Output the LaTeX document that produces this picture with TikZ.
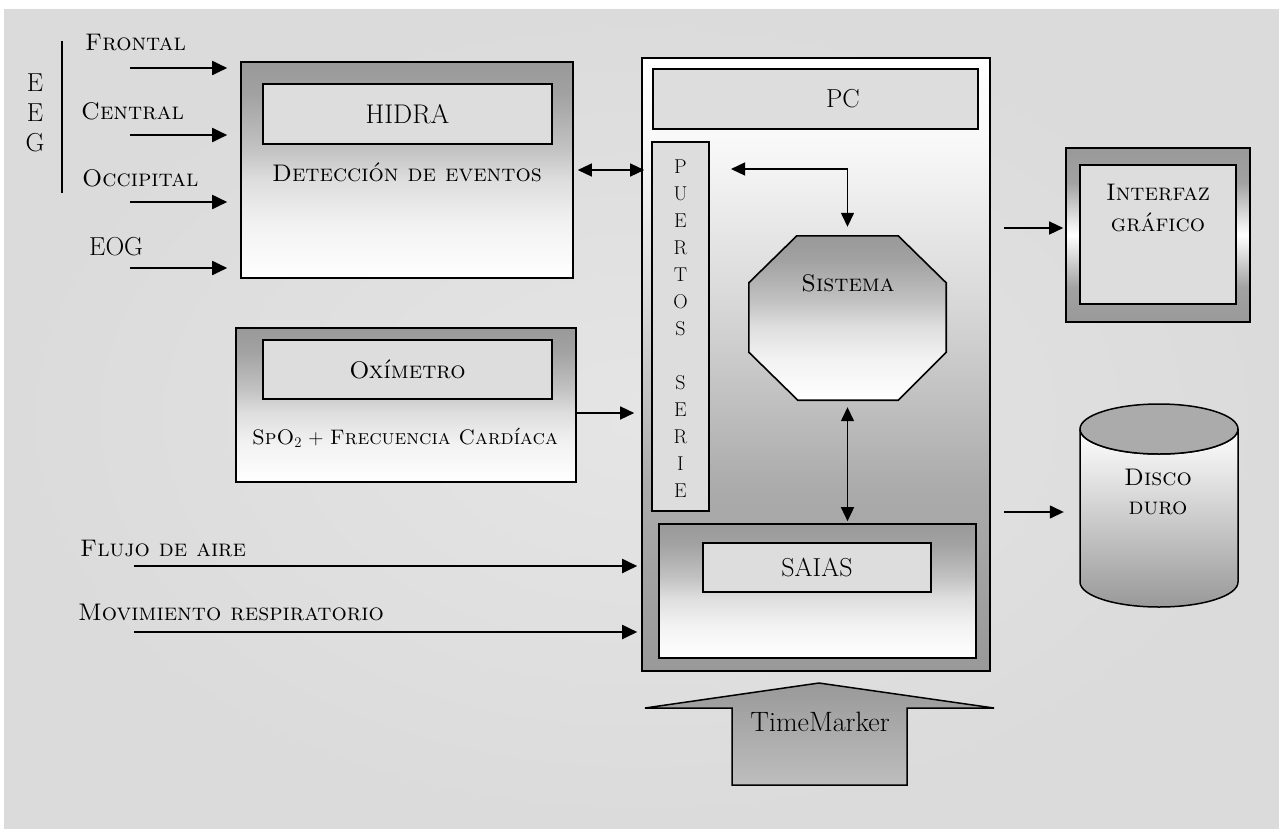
\documentclass[tikz,border=0pt]{standalone}
\usepackage{fontspec}
\usetikzlibrary{arrows.meta,calc}

\definecolor{g99}{HTML}{999999}
\definecolor{gA0}{HTML}{A2A2A2}
\definecolor{gAA}{HTML}{ABABAB}
\definecolor{gBE}{HTML}{BEBEBE}
\definecolor{gC0}{HTML}{C2C2C2}
\definecolor{gD8}{HTML}{D8D8D8}
\definecolor{gDB}{HTML}{DBDBDB}
\definecolor{gDD}{HTML}{DDDDDD}
\definecolor{gDE}{HTML}{DEDEDE}
\definecolor{gE5}{HTML}{E5E5E5}
\definecolor{gF2}{HTML}{F2F2F2}
\definecolor{gF8}{HTML}{F8F8F8}

% dark top fading to white at the bottom
\pgfdeclareverticalshading{boxfade}{100bp}{color(0bp)=(white); color(25bp)=(white);
  color(37.5bp)=(gF2); color(47.5bp)=(gDE); color(55bp)=(gC0); color(67.5bp)=(gA0);
  color(75bp)=(g99); color(100bp)=(g99)}
% white top fading to gray at the bottom
\pgfdeclareverticalshading{pcfade}{100bp}{color(0bp)=(g99); color(25bp)=(g99);
  color(40bp)=(gAA); color(55bp)=(gD8); color(68bp)=(gF8); color(75bp)=(white);
  color(100bp)=(white)}
% gray at top and bottom, white in the middle
\pgfdeclareverticalshading{framefade}{100bp}{color(0bp)=(g99); color(25bp)=(g99);
  color(35bp)=(gA0); color(50bp)=(white); color(65bp)=(gA0); color(75bp)=(g99);
  color(100bp)=(g99)}

\tikzset{
  outerbox/.style={draw=black, line width=1.6pt, shade, shading=boxfade, inner sep=0pt},
  innerbox/.style={draw=black, line width=1.5pt, fill=gDD, inner sep=0pt},
  ghost/.style={inner sep=0pt},
  big/.style={font=\fontsize{26}{30}\selectfont},
  arr/.style={-{Triangle[length=15pt,width=14pt]}, line width=1.9pt},
  thinarr/.style={-{Triangle[length=14pt,width=13pt]}, line width=1.4pt},
  darr/.style={{Triangle[length=14pt,width=13pt]}-{Triangle[length=14pt,width=13pt]}, line width=1.4pt},
}

\begin{document}
\begin{tikzpicture}[x=1pt, y=-1pt, font=\fontsize{24}{28}\selectfont, inner sep=0pt]
\useasboundingbox (0,0) rectangle (1279,830);
\fill[white] (0,0) rectangle (1279,830);
\shade[inner color=gE5, outer color=gDB] (4,9) rectangle (1279,828);

% ---------- EEG / EOG inputs ----------
\node[big] (eeg1) at (35,83) {E};
\node[big] (eeg2) at (35,113) {E};
\node[big] (eeg3) at (35,143) {G};
\draw[line width=1.5pt] (62,41) -- (62,193);
\node[anchor=west] (lfr) at (85,43) {\textsc{Frontal}};
\node[anchor=west] (lce) at (81,111) {\textsc{Central}};
\node[anchor=west] (loc) at (82,178) {\textsc{Occipital}};
\node[anchor=west, big] (leo) at (89,247) {EOG};

% ---------- HIDRA ----------
\node[outerbox, minimum width=332pt, minimum height=216pt] (hidra) at (407,170) {};
\node[innerbox, minimum width=289pt, minimum height=60pt, font=\fontsize{27}{30}\selectfont] (hidraIn) at (407.5,114) {HIDRA};
\node (det) at (407,172) {\textsc{Detección de eventos}};

\coordinate (inF) at (130,68);
\coordinate (inC) at (130,135);
\coordinate (inO) at (130,202);
\coordinate (inE) at (130,268);
\foreach \c in {inF,inC,inO,inE}
  \draw[arr, shorten >=13pt] (\c) -- (\c -| hidra.west);

% ---------- Oximetro ----------
\node[outerbox, minimum width=340pt, minimum height=154pt] (ox) at (406,405) {};
\node[innerbox, minimum width=289pt, minimum height=59pt] (oxIn) at (407.5,369.5) {\textsc{Oxímetro}};
\node[font=\fontsize{21}{24}\selectfont] (spo) at (405,438) {\textsc{SpO}\textsubscript{2} + \textsc{Frecuencia Cardíaca}};

% ---------- PC ----------
\node[draw=black, line width=1.6pt, shade, shading=pcfade, minimum width=348pt, minimum height=613pt] (pc) at (816,364.5) {};
\node[innerbox, minimum width=325pt, minimum height=60pt] (pcbar) at (815.5,99) {};
\node[big] (pcT) at (843,99) {PC};
\node[innerbox, minimum width=57pt, minimum height=369pt] (pts) at (680.5,326.5) {};
\node[align=center, font=\fontsize{20}{27}\selectfont] (ptsT) at (680.5,328.5)
  {P\\U\\E\\R\\T\\O\\S\\[27pt]S\\E\\R\\I\\E};

% Sistema octagon
\node[ghost, minimum width=197pt, minimum height=164pt] (sis) at (847.5,318) {};
\path[draw=black, line width=1.6pt, shade, shading=boxfade]
  ($(sis.north west)+(48,0)$) -- ($(sis.north east)+(-48,0)$) --
  ($(sis.north east)+(0,47)$) -- ($(sis.south east)+(0,-48)$) --
  ($(sis.south east)+(-48,0)$) -- ($(sis.south west)+(49,0)$) --
  ($(sis.south west)+(0,-48)$) -- ($(sis.north west)+(0,47)$) -- cycle;
\node (sisT) at (848,283) {\textsc{Sistema}};

% SAIAS
\node[outerbox, minimum width=317pt, minimum height=134pt] (saias) at (817.5,591) {};
\node[innerbox, minimum width=228pt, minimum height=49pt, big] (saiasIn) at (817,567.5) {SAIAS};

% internal links
\coordinate (pa) at (731,169);
\draw[darr] (pa) -| ([yshift=9pt]sis.north);
\draw[darr, shorten <=7pt, shorten >=2pt] (sis.south) -- (sis.south |- saias.north);
\draw[darr, shorten <=4pt, shorten >=-3pt] (hidra.east) -- (hidra.east -| pc.west);

% other inputs
\coordinate (oxo) at ($(ox.east)+(0,8)$);
\draw[thinarr, shorten >=7pt] (oxo) -- (oxo -| pc.west);
\coordinate (inA) at (134,566);
\coordinate (inM) at (134,632);
\node[anchor=west] (lfl) at (80,548) {\textsc{Flujo de aire}};
\node[anchor=west] (lmo) at (78,612) {\textsc{Movimiento respiratorio}};
\draw[arr, shorten >=4pt] (inA) -- (inA -| pc.west);
\draw[arr, shorten >=4pt] (inM) -- (inM -| pc.west);

% ---------- Interfaz grafico ----------
\node[draw=black, line width=1.6pt, shade, shading=framefade,
      minimum width=184pt, minimum height=174pt] (ifz) at (1158,235) {};
\node[innerbox, minimum width=156pt, minimum height=139pt] (ifzIn) at (1158,234.5) {};
\node[align=center, font=\fontsize{24}{31}\selectfont] (ifzT) at (1158,207.5)
  {\textsc{Interfaz}\\\textsc{gráfico}};
\draw[thinarr, shorten <=13pt, shorten >=2pt] ($(pc.east |- ifz.west)+(0,-7)$) -- ($(ifz.west)+(0,-7)$);

% ---------- Disco duro ----------
\node[ghost, minimum width=158pt, minimum height=203pt] (disk) at (1159,505.5) {};
\path[draw=black, line width=1.5pt, top color=white, bottom color=g99]
  (1080,429) -- (1080,582) arc[start angle=180, end angle=0, x radius=79, y radius=25]
  -- (1238,429) arc[start angle=0, end angle=180, x radius=79, y radius=25] -- cycle;
\draw[line width=1.5pt, fill=gAA] (1159,429) ellipse [x radius=79, y radius=25];
\node[align=center, font=\fontsize{24}{29}\selectfont] (diskT) at (1158,491.5)
  {\textsc{Disco}\\\textsc{duro}};
\draw[thinarr, shorten <=13pt, shorten >=16pt] ($(pc.east |- disk.west)+(0,6.5)$) -- ($(disk.west)+(0,6.5)$);

% ---------- TimeMarker ----------
\path[draw=black, line width=1.5pt, top color=g99, bottom color=gBE, line join=miter]
  (645,708) -- (819,683) -- (994,708) -- (907,708) -- (907,785) -- (732,785) -- (732,708) -- cycle;
\node[font=\fontsize{28}{32}\selectfont] (tm) at (820,722) {TimeMarker};
\end{tikzpicture}
\end{document}
